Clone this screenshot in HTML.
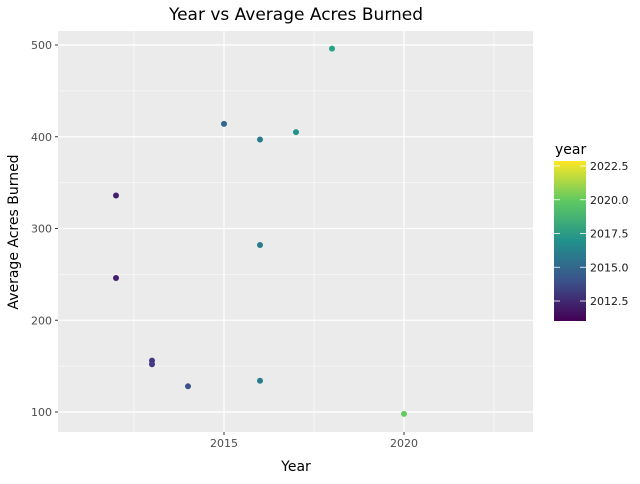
<!DOCTYPE html>
<html><head><meta charset="utf-8"><style>
body{margin:0;background:#fff;font-family:"DejaVu Sans","Liberation Sans",sans-serif}
</style></head><body>
<svg id="c" width="640" height="480" xmlns="http://www.w3.org/2000/svg">
<defs><linearGradient id="vg" x1="0" y1="1" x2="0" y2="0">
<stop offset="0" stop-color="#440154"/><stop offset="0.25" stop-color="#3b528b"/><stop offset="0.5" stop-color="#21918c"/><stop offset="0.75" stop-color="#5ec962"/><stop offset="1" stop-color="#fde725"/></linearGradient></defs>
<text x="296" y="20" text-anchor="middle" font-size="17">Year vs Average Acres Burned</text>
<rect x="58" y="31" width="475" height="401" fill="#ebebeb"/>
<g id="grid"></g><g id="pts"></g><g id="axes"></g>
<text x="296" y="471" text-anchor="middle" font-size="14">Year</text>
<text x="18" y="232" text-anchor="middle" font-size="14" transform="rotate(-90 18 232)">Average Acres Burned</text>
<text x="555" y="154" font-size="14">year</text>
<rect x="554" y="161" width="32" height="160" fill="url(#vg)"/>
<g id="leg"></g>
</svg>
<script>
const years=[2012,2012,2013,2013,2014,2015,2016,2016,2016,2017,2018,2020];
const acres=[336,246,156,152,128,414,397,282,134,405,496,98];
const xTicks=[2015,2020];
const yTicks=[100,200,300,400,500];
const legTicks=[2012.5,2015.0,2017.5,2020.0,2022.5];
const ns="http://www.w3.org/2000/svg";
const X=v=>224+(v-2015)*36, Y=v=>412-(v-100)*0.9175;
const L=v=>301-(v-2012.5)*13.5;
const vir=["#440154","#482878","#3e4989","#31688e","#26828e","#1f9e89","#35b779","#6ece58","#b5de2b","#fde725"];
function col(v){let t=Math.max(0,Math.min(1,(v-2011)/(2022.9-2011)))*(vir.length-1);let i=Math.min(Math.floor(t),vir.length-2),f=t-i;
const h=s=>[1,3,5].map(k=>parseInt(s.substr(k,2),16));const a=h(vir[i]),b=h(vir[i+1]);return "rgb("+a.map((x,k)=>Math.round(x+(b[k]-x)*f)).join(",")+")";}
function mk(p,t,at){const e=document.createElementNS(ns,t);for(const k in at)e.setAttribute(k,at[k]);document.getElementById(p).appendChild(e);return e;}
for(const v of [2012.5,2017.5,2022.5]){const e=mk("grid","line",{x1:X(v),x2:X(v),y1:31,y2:432,stroke:"#fff","stroke-width":0.6});

}
for(const v of [150,250,350,450]){const e=mk("grid","line",{x1:58,x2:533,y1:Y(v),y2:Y(v),stroke:"#fff","stroke-width":0.6});

}
xTicks.forEach(v=>{const e=mk("grid","line",{x1:X(v),x2:X(v),y1:31,y2:432,stroke:"#fff","stroke-width":1.2});


const t=mk("axes","text",{x:X(v),y:447,"text-anchor":"middle","font-size":11,fill:"#4d4d4d"});t.textContent=v;


const k=mk("axes","line",{x1:X(v),x2:X(v),y1:432,y2:435,stroke:"#333"});

});
yTicks.forEach(v=>{const e=mk("grid","line",{x1:58,x2:533,y1:Y(v),y2:Y(v),stroke:"#fff","stroke-width":1.2});


const t=mk("axes","text",{x:52,y:Y(v)+4,"text-anchor":"end","font-size":11,fill:"#4d4d4d"});t.textContent=v;


const k=mk("axes","line",{x1:55,x2:58,y1:Y(v),y2:Y(v),stroke:"#333"});

});
years.forEach((y,i)=>{const c=mk("pts","circle",{cx:X(y),cy:Y(acres[i]),r:3,fill:col(y)});

});
legTicks.forEach(v=>{const a=mk("leg","line",{x1:554,x2:560,y1:L(v),y2:L(v),stroke:"#fff","stroke-width":0.8});


const b=mk("leg","line",{x1:580,x2:586,y1:L(v),y2:L(v),stroke:"#fff","stroke-width":0.8});


const t=mk("leg","text",{x:590,y:L(v)+4,"font-size":11,fill:"#1a1a1a"});t.textContent=v.toFixed(1);

});
</script>
</body></html>
